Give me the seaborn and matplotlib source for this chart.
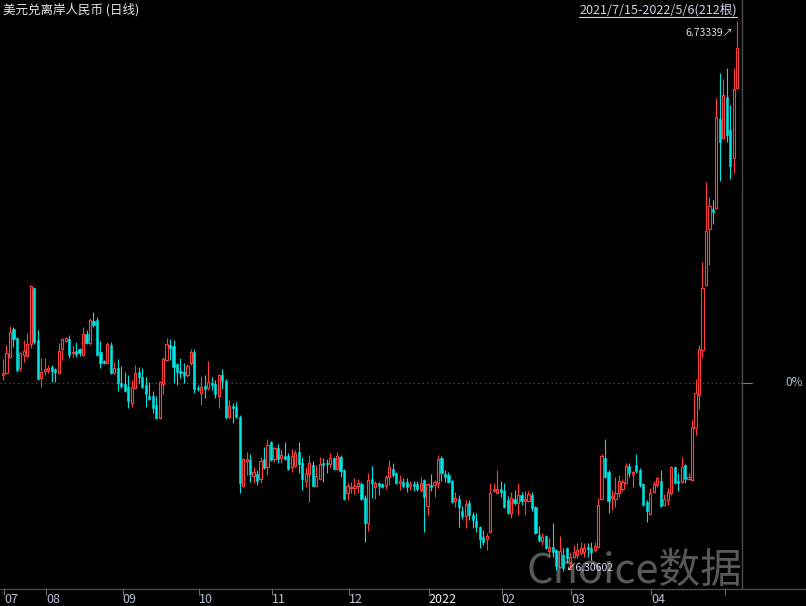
import numpy as np
import pandas as pd
import matplotlib
matplotlib.use("Agg")
import matplotlib.pyplot as plt
import matplotlib.transforms as mtransforms
from matplotlib.lines import Line2D
import seaborn as sns

# ---------------- data ----------------
title = "美元兑离岸人民币 (日线)"
range_label = "2021/7/15-2022/5/6(212根)"
base_close = 6.4521  # previous close -> 0% line

month_labels = ["07", "08", "09", "10", "11", "12", "2022", "02", "03", "04", ""]
month_start_idx = [0, 12, 34, 56, 77, 99, 122, 143, 163, 186, 207]

open_ = [
    6.4583, 6.4599, 6.4723, 6.4941, 6.4871, 6.4638, 6.4739, 6.4731, 6.4824, 6.5259,
    6.4855, 6.4560, 6.4614, 6.4622, 6.4645, 6.4630, 6.4599, 6.4785, 6.4847, 6.4863,
    6.4754, 6.4770, 6.4785, 6.4739, 6.4902, 6.4832, 6.5003, 6.5011, 6.4762, 6.4692,
    6.4677, 6.4816, 6.4599, 6.4638, 6.4521, 6.4513, 6.4490, 6.4366, 6.4482, 6.4607,
    6.4568, 6.4506, 6.4420, 6.4420, 6.4350, 6.4249, 6.4513, 6.4700, 6.4816, 6.4809,
    6.4669, 6.4614, 6.4607, 6.4583, 6.4677, 6.4762, 6.4482, 6.4443, 6.4498, 6.4482,
    6.4521, 6.4513, 6.4420, 6.4583, 6.4537, 6.4257, 6.4342, 6.4335, 6.4257, 6.3721,
    6.3915, 6.3923, 6.3799, 6.3814, 6.3775, 6.3931, 6.3868, 6.4063, 6.3931, 6.4016,
    6.3938, 6.3954, 6.3954, 6.3868, 6.3876, 6.3985, 6.3900, 6.3760, 6.3814, 6.3884,
    6.3721, 6.3775, 6.3900, 6.3900, 6.3892, 6.3938, 6.3853, 6.3946, 6.3845, 6.3666,
    6.3705, 6.3705, 6.3721, 6.3736, 6.3628, 6.3433, 6.3775, 6.3713, 6.3744, 6.3736,
    6.3721, 6.3791, 6.3853, 6.3822, 6.3744, 6.3752, 6.3752, 6.3721, 6.3736, 6.3736,
    6.3690, 6.3767, 6.3565, 6.3729, 6.3729, 6.3744, 6.3938, 6.3814, 6.3806, 6.3760,
    6.3604, 6.3620, 6.3527, 6.3488, 6.3589, 6.3495, 6.3449, 6.3402, 6.3325, 6.3309,
    6.3363, 6.3682, 6.3666, 6.3697, 6.3682, 6.3612, 6.3511, 6.3620, 6.3589, 6.3651,
    6.3604, 6.3604, 6.3651, 6.3558, 6.3340, 6.3293, 6.3332, 6.3216, 6.3247, 6.3224,
    6.3091, 6.3185, 6.3239, 6.3130, 6.3169, 6.3185, 6.3200, 6.3208, 6.3247, 6.3239,
    6.3224, 6.3247, 6.3620, 6.3938, 6.3830, 6.3628, 6.3620, 6.3666, 6.3697, 6.3744,
    6.3876, 6.3814, 6.3884, 6.3845, 6.3736, 6.3597, 6.3503, 6.3674, 6.3729, 6.3760,
    6.3573, 6.3612, 6.3666, 6.3868, 6.3760, 6.3752, 6.3884, 6.3775, 6.3767, 6.4171,
    6.4428, 6.4778, 6.5283, 6.5718, 6.5873, 6.5881, 6.6572, 6.6425, 6.6743, 6.6487,
    6.6269, 6.6813,
]

high = [
    6.4708, 6.4816, 6.4964, 6.4956, 6.4879, 6.4762, 6.4855, 6.4910, 6.5283, 6.5267,
    6.4933, 6.4715, 6.4715, 6.4661, 6.4661, 6.4638, 6.4832, 6.4871, 6.4879, 6.4894,
    6.4809, 6.4840, 6.4793, 6.4956, 6.4933, 6.5026, 6.5073, 6.5034, 6.4847, 6.4700,
    6.4840, 6.4840, 6.4684, 6.4708, 6.4653, 6.4607, 6.4583, 6.4544, 6.4661, 6.4645,
    6.4638, 6.4568, 6.4529, 6.4459, 6.4420, 6.4537, 6.4723, 6.4871, 6.4863, 6.4855,
    6.4677, 6.4715, 6.4677, 6.4669, 6.4785, 6.4785, 6.4506, 6.4576, 6.4583, 6.4692,
    6.4568, 6.4544, 6.4591, 6.4630, 6.4552, 6.4389, 6.4366, 6.4373, 6.4272, 6.3938,
    6.3985, 6.3969, 6.3868, 6.3845, 6.3946, 6.4024, 6.4086, 6.4070, 6.4024, 6.4047,
    6.4008, 6.4063, 6.3977, 6.4008, 6.4001, 6.4063, 6.3946, 6.3868, 6.3962, 6.3915,
    6.3884, 6.3946, 6.3938, 6.3931, 6.3977, 6.3946, 6.3985, 6.3962, 6.3853, 6.3744,
    6.3752, 6.3783, 6.3775, 6.3752, 6.3651, 6.3822, 6.3876, 6.3760, 6.3752, 6.3744,
    6.3806, 6.3923, 6.3900, 6.3830, 6.3806, 6.3783, 6.3783, 6.3760, 6.3760, 6.3760,
    6.3791, 6.3775, 6.3744, 6.3814, 6.3767, 6.3962, 6.3954, 6.3845, 6.3830, 6.3767,
    6.3674, 6.3651, 6.3565, 6.3612, 6.3612, 6.3519, 6.3511, 6.3410, 6.3379, 6.3356,
    6.3744, 6.3744, 6.3845, 6.3760, 6.3744, 6.3643, 6.3674, 6.3690, 6.3744, 6.3674,
    6.3682, 6.3682, 6.3674, 6.3565, 6.3410, 6.3356, 6.3340, 6.3317, 6.3433, 6.3231,
    6.3332, 6.3239, 6.3247, 6.3208, 6.3262, 6.3278, 6.3286, 6.3278, 6.3278, 6.3286,
    6.3286, 6.3628, 6.3969, 6.4086, 6.3845, 6.3690, 6.3791, 6.3806, 6.3775, 6.3900,
    6.3900, 6.3837, 6.3969, 6.3861, 6.3744, 6.3612, 6.3705, 6.3760, 6.3791, 6.3845,
    6.3659, 6.3705, 6.3876, 6.3876, 6.3822, 6.3946, 6.3892, 6.3822, 6.4234, 6.4552,
    6.4816, 6.5461, 6.6083, 6.5966, 6.5945, 6.6736, 6.6930, 6.6883, 6.6969, 6.6681,
    6.6969, 6.73339,
]

low = [
    6.4544, 6.4591, 6.4715, 6.4801, 6.4607, 6.4614, 6.4684, 6.4723, 6.4793, 6.4824,
    6.4544, 6.4490, 6.4583, 6.4599, 6.4529, 6.4529, 6.4591, 6.4700, 6.4840, 6.4715,
    6.4723, 6.4723, 6.4731, 6.4731, 6.4824, 6.4816, 6.4956, 6.4731, 6.4638, 6.4669,
    6.4669, 6.4591, 6.4591, 6.4459, 6.4482, 6.4451, 6.4327, 6.4335, 6.4474, 6.4521,
    6.4482, 6.4335, 6.4389, 6.4288, 6.4241, 6.4241, 6.4436, 6.4692, 6.4700, 6.4521,
    6.4506, 6.4560, 6.4521, 6.4568, 6.4661, 6.4443, 6.4459, 6.4350, 6.4405, 6.4467,
    6.4467, 6.4405, 6.4327, 6.4474, 6.4241, 6.4249, 6.4210, 6.4249, 6.3666, 6.3713,
    6.3806, 6.3752, 6.3744, 6.3729, 6.3744, 6.3853, 6.3806, 6.3915, 6.3907, 6.3900,
    6.3900, 6.3923, 6.3845, 6.3830, 6.3868, 6.3822, 6.3690, 6.3713, 6.3597, 6.3713,
    6.3713, 6.3767, 6.3752, 6.3822, 6.3861, 6.3845, 6.3845, 6.3791, 6.3612, 6.3612,
    6.3666, 6.3659, 6.3666, 6.3612, 6.3286, 6.3371, 6.3628, 6.3620, 6.3651, 6.3705,
    6.3697, 6.3729, 6.3791, 6.3736, 6.3690, 6.3705, 6.3674, 6.3690, 6.3682, 6.3682,
    6.3674, 6.3363, 6.3495, 6.3682, 6.3635, 6.3705, 6.3760, 6.3752, 6.3744, 6.3589,
    6.3558, 6.3402, 6.3464, 6.3394, 6.3457, 6.3394, 6.3363, 6.3239, 6.3262, 6.3224,
    6.3356, 6.3674, 6.3659, 6.3635, 6.3550, 6.3503, 6.3472, 6.3573, 6.3495, 6.3573,
    6.3495, 6.3597, 6.3527, 6.3348, 6.3286, 6.3262, 6.3231, 6.3169, 6.3169, 6.3068,
    6.3084, 6.30602, 6.3123, 6.3076, 6.3161, 6.3161, 6.3185, 6.3169, 6.3169, 6.3146,
    6.3208, 6.3239, 6.3612, 6.3783, 6.3511, 6.3534, 6.3558, 6.3635, 6.3682, 6.3736,
    6.3791, 6.3713, 6.3822, 6.3713, 6.3565, 6.3441, 6.3495, 6.3666, 6.3713, 6.3558,
    6.3565, 6.3573, 6.3651, 6.3736, 6.3682, 6.3744, 6.3744, 6.3767, 6.3760, 6.4117,
    6.4319, 6.4715, 6.5275, 6.5438, 6.5757, 6.5873, 6.6091, 6.6417, 6.6394, 6.6106,
    6.6153, 6.6806,
]

close = [
    6.4599, 6.4754, 6.4917, 6.4863, 6.4622, 6.4754, 6.4770, 6.4824, 6.5275, 6.4840,
    6.4552, 6.4607, 6.4630, 6.4638, 6.4614, 6.4607, 6.4770, 6.4863, 6.4871, 6.4739,
    6.4762, 6.4746, 6.4754, 6.4902, 6.4832, 6.5011, 6.4972, 6.4739, 6.4677, 6.4677,
    6.4824, 6.4599, 6.4638, 6.4521, 6.4498, 6.4459, 6.4381, 6.4490, 6.4599, 6.4568,
    6.4490, 6.4436, 6.4397, 6.4327, 6.4249, 6.4529, 6.4708, 6.4824, 6.4793, 6.4645,
    6.4607, 6.4599, 6.4576, 6.4653, 6.4762, 6.4474, 6.4474, 6.4490, 6.4474, 6.4529,
    6.4506, 6.4436, 6.4583, 6.4537, 6.4257, 6.4342, 6.4327, 6.4257, 6.3744, 6.3931,
    6.3931, 6.3814, 6.3830, 6.3760, 6.3915, 6.3861, 6.4039, 6.3923, 6.4016, 6.3931,
    6.3962, 6.3931, 6.3853, 6.3954, 6.3977, 6.3892, 6.3775, 6.3822, 6.3900, 6.3721,
    6.3799, 6.3892, 6.3884, 6.3892, 6.3938, 6.3853, 6.3954, 6.3837, 6.3620, 6.3721,
    6.3713, 6.3721, 6.3744, 6.3620, 6.3433, 6.3767, 6.3744, 6.3744, 6.3721, 6.3713,
    6.3791, 6.3868, 6.3806, 6.3744, 6.3760, 6.3721, 6.3713, 6.3736, 6.3721, 6.3697,
    6.3744, 6.3635, 6.3736, 6.3713, 6.3752, 6.3931, 6.3822, 6.3791, 6.3752, 6.3597,
    6.3628, 6.3558, 6.3488, 6.3581, 6.3495, 6.3457, 6.3402, 6.3309, 6.3286, 6.3332,
    6.3666, 6.3697, 6.3697, 6.3674, 6.3558, 6.3511, 6.3628, 6.3589, 6.3651, 6.3604,
    6.3620, 6.3659, 6.3550, 6.3356, 6.3301, 6.3325, 6.3239, 6.3247, 6.3208, 6.3099,
    6.3216, 6.3084, 6.3161, 6.3169, 6.3208, 6.3224, 6.3239, 6.3239, 6.3231, 6.3208,
    6.3255, 6.3573, 6.3954, 6.3791, 6.3604, 6.3643, 6.3666, 6.3760, 6.3752, 6.3876,
    6.3822, 6.3830, 6.3837, 6.3729, 6.3573, 6.3527, 6.3666, 6.3736, 6.3783, 6.3565,
    6.3620, 6.3674, 6.3868, 6.3744, 6.3744, 6.3868, 6.3775, 6.3791, 6.4179, 6.4443,
    6.4785, 6.5259, 6.5702, 6.5896, 6.5850, 6.6588, 6.6394, 6.6759, 6.6448, 6.6207,
    6.6806, 6.7124,
]

# ---------------- styling ----------------
RED = "#ff3d3d"
CYAN = "#00e3e3"
GRID = "#4a4a4a"
TXT = "#c4cad8"

sns.set_theme(style="dark", rc={
    "figure.facecolor": "black",
    "axes.facecolor": "black",
    "savefig.facecolor": "black",
    "axes.edgecolor": GRID,
    "text.color": TXT,
    "xtick.color": TXT,
})
plt.rcParams["font.family"] = ["Noto Sans CJK SC", "DejaVu Sans"]

n = min(len(open_), len(high), len(low), len(close))
df = pd.DataFrame({
    "i": np.arange(n),
    "open": np.array(open_[:n]),
    "high": np.array(high[:n]),
    "low": np.array(low[:n]),
    "close": np.array(close[:n]),
})
df["up"] = df["close"] >= df["open"]

W, H = 806, 606
fig = plt.figure(figsize=(W / 100, H / 100), dpi=100)
ax_left, ax_right, ax_top, ax_bot = 0, 741, 18, 588
ax = fig.add_axes([ax_left / W, (H - ax_bot) / H, (ax_right - ax_left) / W, (ax_bot - ax_top) / H])
ax.set_facecolor("black")

# scales
ax.set_xlim(-0.862, 212.07)
ax.set_ylim(6.2928, 6.7357)

# wicks
wick_colors = np.where(df["up"], RED, CYAN)
ax.vlines(df["i"], df["low"], df["high"], colors=wick_colors, linewidth=0.8, zorder=2)

# bodies
bw = 0.62
up = df[df["up"]]
dn = df[~df["up"]]
ax.bar(up["i"], (up["close"] - up["open"]).abs(), bottom=np.minimum(up["open"], up["close"]),
       width=bw, facecolor="black", edgecolor=RED, linewidth=0.8, zorder=3)
ax.bar(dn["i"], (dn["close"] - dn["open"]).abs(), bottom=np.minimum(dn["open"], dn["close"]),
       width=bw, facecolor=CYAN, edgecolor=CYAN, linewidth=0.4, zorder=3)

# 0% reference line
ax.axhline(base_close, color="#5a5a5a", linestyle=(0, (1, 3)), linewidth=0.8, zorder=1)
blend = mtransforms.blended_transform_factory(ax.transAxes, ax.transData)
ax.add_line(Line2D([1.0, 752 / 741], [base_close, base_close], transform=blend,
                   color="#7a7a7a", linewidth=0.8, clip_on=False))
ax.text(803 / 741, base_close, "0%", transform=blend, ha="right", va="center",
        fontsize=8.5, color="#aab8d8", clip_on=False)

# x ticks (month starts)
tick_pos = [s + 0.35 for s in month_start_idx]
ax.set_xticks(tick_pos)
ax.set_xticklabels(month_labels, ha="left", fontsize=9)
for lbl, txt in zip(ax.get_xticklabels(), month_labels):
    lbl.set_color("#f2f2f2" if txt == "2022" else "#b9c0d2")
ax.tick_params(axis="x", direction="out", length=5, width=0.8, color="#707070", pad=-1.5, bottom=True)
ax.set_yticks([])
sns.despine(ax=ax, left=True, right=True, top=True, bottom=True)
ax.grid(False)

# extreme annotations
imax = int(df["high"].idxmax())
imin = int(df["low"].idxmin())
ax.annotate(f"{df['high'].max():.5f}↗", xy=(imax, df["high"].max()), xytext=(-2.5, -8.5),
            textcoords="offset points", ha="right", va="center", fontsize=7.5,
            color="#d6dcea", zorder=5)
ax.annotate(f"↙{df['low'].min():.5f}", xy=(imin, df["low"].min()), xytext=(1.5, 2.0),
            textcoords="offset points", ha="left", va="center", fontsize=7.5,
            color="#d6dcea", zorder=5)

# watermark (behind candles)
ax.text(527 / W, (H - 583) / H, "Choice数据", transform=fig.transFigure, ha="left",
        va="baseline", fontsize=30, color="#585858", zorder=0.5, clip_on=False)

# frame lines
fig.add_artist(Line2D([0, 1], [(H - 588.5) / H] * 2, color=GRID, linewidth=1.0))
fig.add_artist(Line2D([741.5 / W] * 2, [(H - 588.5) / H, 1], color=GRID, linewidth=1.0))

# header texts
fig.text(3 / W, (H - 10) / H, title, ha="left", va="center", fontsize=9, color="#e6e6e6")
t_range = fig.text(737 / W, (H - 9.5) / H, range_label, ha="right", va="center",
                   fontsize=9.1, color="#c8d2e6")
fig.canvas.draw()
bb = t_range.get_window_extent(fig.canvas.get_renderer())
fig.add_artist(Line2D([bb.x0 / W, bb.x1 / W], [(H - 17) / H] * 2, color="#c8d2e6", linewidth=0.8))

fig.savefig("out.png", dpi=100, facecolor="black")
